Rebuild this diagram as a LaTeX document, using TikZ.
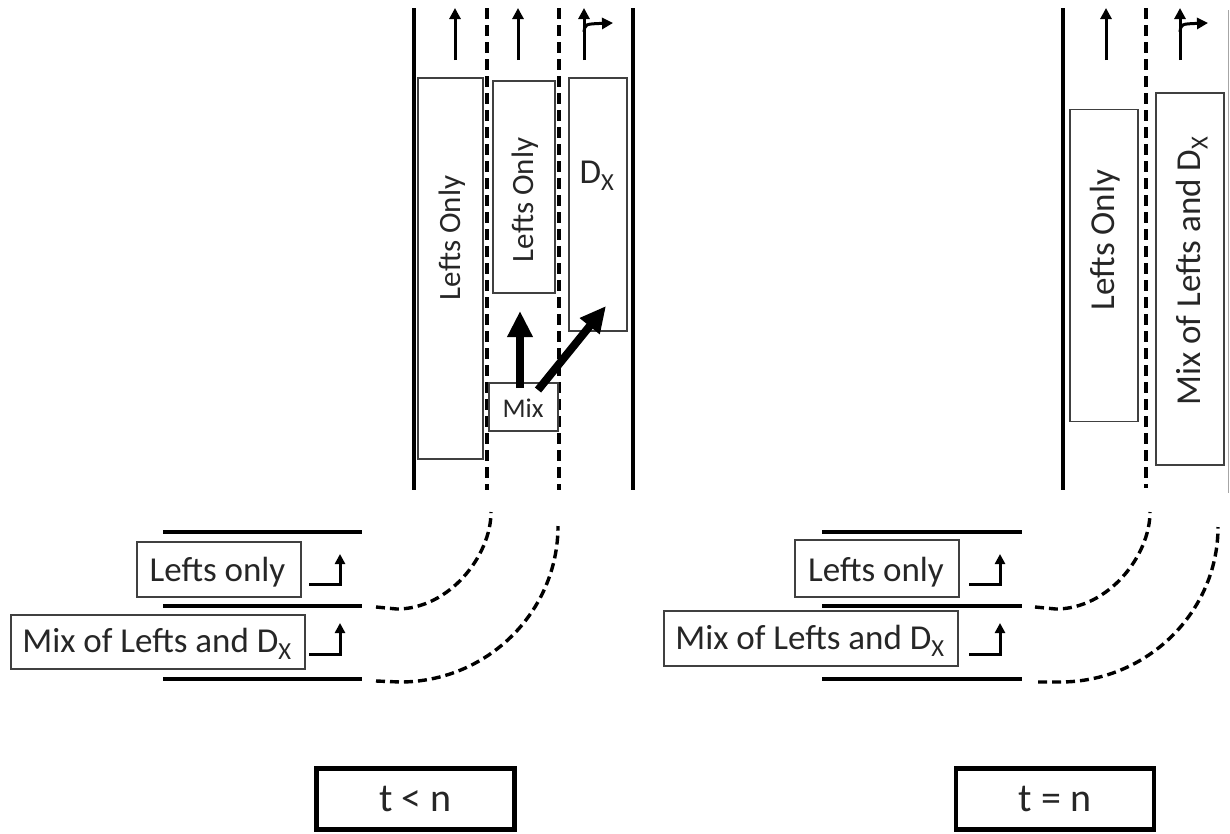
\documentclass[tikz,border=0pt]{standalone}
\usepackage{fontspec}
\setmainfont{Carlito}
\usetikzlibrary{arrows.meta}
\newcommand\fsL{\fontsize{35}{40}\selectfont}
\newcommand\fsR{\fontsize{31}{36}\selectfont}
\newcommand\fsM{\fontsize{27}{30}\selectfont}
\newcommand\fsT{\fontsize{40}{44}\selectfont}
\newcommand\DX{D\textsubscript{X}}
\begin{document}
\begin{tikzpicture}[x=1pt,y=-1pt,
  road/.style={line width=3.6pt},
  lanedash/.style={line width=3.6pt, dash pattern=on 11pt off 6pt},
  curvedash/.style={line width=3.4pt, dash pattern=on 9pt off 5pt},
  lanebox/.style={draw=black!75, line width=1.6pt, inner sep=0pt, fill=none},
  txt/.style={text=black!85, inner sep=0pt},
  thinarrow/.style={line width=3pt, -{Triangle[length=11pt,width=11pt]}},
  thickarrow/.style={line width=8pt, -{Triangle[length=26pt,width=24pt]}},
  turnarrow/.style={line width=3pt, line join=miter, -{Triangle[length=10pt,width=10pt]}},
  timebox/.style={draw, line width=4.5pt, minimum width=198pt, minimum height=61pt, text=black!85}
]
\useasboundingbox (0,0) rectangle (1230,833);

% ================= LEFT PANEL (t < n) =================
\coordinate (LE1t) at (414,8);  \coordinate (LE1b) at (414,490);
\coordinate (LE2t) at (633,8);  \coordinate (LE2b) at (633,490);
\coordinate (LD1t) at (487,8);  \coordinate (LD1b) at (487,490);
\coordinate (LD2t) at (559,8);  \coordinate (LD2b) at (559,490);
\draw[road] (LE1t) -- (LE1b);
\draw[road] (LE2t) -- (LE2b);
\draw[lanedash] (LD1t) -- (LD1b);
\draw[lanedash] (LD2t) -- (LD2b);

% lane direction arrows
\coordinate (La1s) at (455,60); \coordinate (La1e) at (455,8);
\coordinate (La2s) at (518,60); \coordinate (La2e) at (518,8);
\coordinate (La3s) at (584,60); \coordinate (La3e) at (584,8);
\coordinate (La3b) at (584,32); \coordinate (La3r) at (613,23);
\draw[thinarrow] (La1s) -- (La1e);
\draw[thinarrow] (La2s) -- (La2e);
\draw[thinarrow] (La3s) -- (La3e);
\draw[thinarrow] (La3b) .. controls (585,24) .. (La3r);

% queue boxes
\node[lanebox, minimum width=65pt, minimum height=381pt] (LqA) at (450.5,268.5) {};
\node[txt, rotate=90, font=\fsR] (LqAt) at (452,238) {Lefts Only};
\node[lanebox, minimum width=62pt, minimum height=212pt] (LqB) at (524,187) {};
\node[txt, rotate=90, font=\fsR] (LqBt) at (525,200) {Lefts Only};
\node[lanebox, minimum width=58pt, minimum height=253pt] (LqC) at (598,204.5) {};
\node[txt, font=\fsL] (LqCt) at (597,176) {\DX};
\node[lanebox, minimum width=69pt, minimum height=48pt] (Lmix) at (523.5,407) {};
\node[txt, font=\fsM] (Lmixt) at (523,408) {Mix};
\coordinate (Lmv) at (520,388);
\coordinate (Lmd) at (538,390);
\draw[thickarrow] (Lmv) -- (520,311);
\draw[thickarrow] (Lmd) -- (606,306);

% approach lanes
\coordinate (Lh1a) at (163,532); \coordinate (Lh1b) at (362,532);
\coordinate (Lh2a) at (163,606); \coordinate (Lh2b) at (362,606);
\coordinate (Lh3a) at (163,679); \coordinate (Lh3b) at (362,679);
\draw[road] (Lh1a) -- (Lh1b);
\draw[road] (Lh2a) -- (Lh2b);
\draw[road] (Lh3a) -- (Lh3b);
\node[lanebox, minimum width=164pt, minimum height=55pt] (Lap1) at (219,569.5) {};
\node[txt, font=\fsL] (Lap1t) at (217.5,572) {Lefts only};
\node[lanebox, minimum width=294pt, minimum height=54pt] (Lap2) at (158,642) {};
\node[txt, font=\fsL] (Lap2t) at (157,644) {Mix of Lefts and \DX};
\draw[turnarrow] (309,584) -- (340,584) -- (340,554);
\draw[turnarrow] (309,654) -- (340,654) -- (340,623);

% turning paths
\coordinate (Lc1s) at (376,607); \coordinate (Lc1e) at (491,512);
\coordinate (Lc2s) at (376,681); \coordinate (Lc2e) at (558,526);
\draw[curvedash] (Lc1s) -- (397,609) .. controls (449,609) and (491,556) .. (Lc1e);
\draw[curvedash] (Lc2s) -- (400,682) .. controls (487,682) and (558,612) .. (Lc2e);

\node[timebox, font=\fsT] (Ltime) at (415.5,799) {t < n};

% ================= RIGHT PANEL (t = n) =================
\coordinate (RE1t) at (1063,8);  \coordinate (RE1b) at (1063,490);
\coordinate (RD1t) at (1146,8);  \coordinate (RD1b) at (1146,488);
\coordinate (RE2t) at (1228,10); \coordinate (RE2b) at (1228,493);
\draw[road] (RE1t) -- (RE1b);
\draw[lanedash] (RD1t) -- (RD1b);
\draw[line width=1pt, black!35] (RE2t) -- (RE2b);

\coordinate (Ra1s) at (1106,60); \coordinate (Ra1e) at (1106,8);
\coordinate (Ra2s) at (1180,60); \coordinate (Ra2e) at (1180,8);
\coordinate (Ra2b) at (1180,32); \coordinate (Ra2r) at (1208,23);
\draw[thinarrow] (Ra1s) -- (Ra1e);
\draw[thinarrow] (Ra2s) -- (Ra2e);
\draw[thinarrow] (Ra2b) .. controls (1181,24) .. (Ra2r);

\node[lanebox, minimum width=68pt, minimum height=312pt] (RqA) at (1104,265.5) {};
\node[txt, rotate=90, font=\fsL] (RqAt) at (1105,240) {Lefts Only};
\node[lanebox, minimum width=68pt, minimum height=372pt] (RqB) at (1190,279) {};
\node[txt, rotate=90, font=\fsL] (RqBt) at (1192,271) {Mix of Lefts and \DX};

\coordinate (Rh1a) at (822,532); \coordinate (Rh1b) at (1022,532);
\coordinate (Rh2a) at (822,606); \coordinate (Rh2b) at (1022,606);
\coordinate (Rh3a) at (822,679); \coordinate (Rh3b) at (1022,679);
\draw[road] (Rh1a) -- (Rh1b);
\draw[road] (Rh2a) -- (Rh2b);
\draw[road] (Rh3a) -- (Rh3b);
\node[lanebox, minimum width=164pt, minimum height=57pt] (Rap1) at (877,568.5) {};
\node[txt, font=\fsL] (Rap1t) at (876,572) {Lefts only};
\node[lanebox, minimum width=294pt, minimum height=55pt] (Rap2) at (811,638.5) {};
\node[txt, font=\fsL] (Rap2t) at (810,641) {Mix of Lefts and \DX};
\draw[turnarrow] (969,584) -- (1000,584) -- (1000,554);
\draw[turnarrow] (969,654) -- (1000,654) -- (1000,623);

\coordinate (Rc1s) at (1035,607); \coordinate (Rc1e) at (1150,512);
\coordinate (Rc2s) at (1038,682); \coordinate (Rc2e) at (1218,527);
\draw[curvedash] (Rc1s) -- (1056,609) .. controls (1108,609) and (1150,556) .. (Rc1e);
\draw[curvedash] (Rc2s) -- (1060,682) .. controls (1147,682) and (1218,612) .. (Rc2e);

\node[timebox, font=\fsT] (Rtime) at (1055,799) {t = n};
\end{tikzpicture}
\end{document}
